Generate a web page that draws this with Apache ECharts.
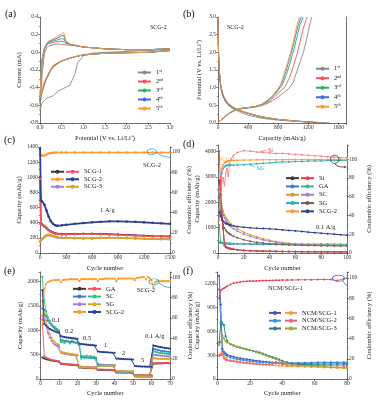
<!DOCTYPE html>
<html>
<head>
<meta charset="utf-8">
<script src="https://cdn.jsdelivr.net/npm/echarts@6/dist/echarts.min.js"></script>
<style>html,body{margin:0;padding:0;background:#fff}#main{width:376px;height:403px}</style>
</head>
<body>
<div id="main"></div>
<script>
var F = 'Liberation Serif, Times New Roman, serif';

// (a) CV curves, SCG-2
var cycLabels = ['1ˢᵗ', '2ⁿᵈ', '3ʳᵈ', '4ᵗʰ', '5ᵗʰ'];
var cycColors = ['#8a8a8a', '#f2545b', '#27b35a', '#4169e1', '#ff9a30'];
var cv1 = [[3.0,0.03],[2.5,0.02],[2.0,0.01],[1.5,0.0],[1.2,-0.01],[1.0,-0.03],[0.96,-0.07],[0.87,-0.11],[0.81,-0.24],[0.69,-0.37],[0.54,-0.41],[0.42,-0.44],[0.31,-0.49],[0.15,-0.52],[0.04,-0.58],[0.0,-0.66],
  [0.02,-0.45],[0.05,-0.25],[0.1,-0.02],[0.15,0.05],[0.2,0.07],[0.3,0.085],[0.4,0.095],[0.5,0.09],[0.6,0.085],[0.8,0.075],[1.0,0.06],[1.5,0.04],[2.0,0.03],[2.5,0.03],[3.0,0.04]];
var cvV = [3.0,2.5,2.0,1.5,1.0,0.8,0.6,0.5,0.4,0.3,0.25,0.2,0.15,0.1,0.05,0.02,0.0,
  0.02,0.05,0.1,0.15,0.2,0.3,0.4,0.5,0.55,0.6,0.7,0.8,1.0,1.5,2.0,2.5,3.0];
var cv2 = [0.02,0.0,-0.005,-0.01,-0.03,-0.05,-0.08,-0.1,-0.13,-0.17,-0.2,-0.25,-0.3,-0.37,-0.45,-0.52,-0.58,
  -0.32,-0.1,0.03,0.08,0.1,0.11,0.12,0.125,0.12,0.1,0.09,0.08,0.06,0.04,0.03,0.03,0.04];
var cv3 = [0.02,0.0,-0.005,-0.01,-0.03,-0.05,-0.08,-0.1,-0.13,-0.16,-0.2,-0.26,-0.29,-0.35,-0.44,-0.5,-0.56,
  -0.3,-0.09,0.04,0.08,0.11,0.125,0.14,0.155,0.15,0.11,0.09,0.08,0.06,0.04,0.03,0.03,0.04];
var cv4 = [0.02,0.0,-0.005,-0.01,-0.03,-0.05,-0.08,-0.1,-0.12,-0.16,-0.19,-0.24,-0.29,-0.35,-0.43,-0.49,-0.54,
  -0.29,-0.08,0.05,0.09,0.12,0.14,0.16,0.19,0.19,0.12,0.09,0.08,0.06,0.04,0.03,0.03,0.04];
var cv5 = [0.02,0.0,-0.005,-0.01,-0.03,-0.05,-0.08,-0.1,-0.12,-0.15,-0.19,-0.24,-0.28,-0.34,-0.42,-0.48,-0.52,
  -0.27,-0.07,0.05,0.1,0.13,0.15,0.18,0.21,0.225,0.13,0.09,0.08,0.06,0.04,0.03,0.03,0.04];

// (b) charge / discharge profiles
var dis1 = [[0,3.0],[3,2.3],[8,1.8],[20,1.3],[40,0.95],[70,0.72],[110,0.56],[160,0.46],[220,0.38],[300,0.3],[400,0.22],[500,0.17],[600,0.13],[800,0.08],[1000,0.05],[1200,0.03],[1400,0.012],[1480,0.005]];
var dis2 = [[0,3.0],[3,2.4],[8,1.9],[18,1.45],[35,1.05],[65,0.78],[100,0.62],[150,0.5],[210,0.42],[300,0.34],[400,0.27],[500,0.21],[600,0.16],[800,0.1],[1000,0.065],[1200,0.035],[1330,0.01]];
var dis3 = [[0,3.0],[3,2.4],[8,1.9],[18,1.45],[35,1.05],[65,0.78],[100,0.62],[150,0.5],[210,0.42],[300,0.34],[400,0.27],[500,0.21],[600,0.16],[800,0.1],[1000,0.06],[1200,0.03],[1300,0.01]];
var dis4 = [[0,3.0],[3,2.45],[8,1.95],[18,1.48],[35,1.07],[65,0.8],[100,0.63],[150,0.51],[210,0.43],[300,0.35],[400,0.28],[500,0.22],[600,0.17],[800,0.1],[1000,0.06],[1200,0.025],[1280,0.01]];
var dis5 = [[0,3.0],[3,2.5],[8,2.0],[15,1.6],[30,1.2],[50,0.95],[80,0.75],[120,0.6],[170,0.5],[230,0.42],[300,0.35],[400,0.28],[500,0.22],[600,0.17],[800,0.1],[1000,0.06],[1200,0.025],[1260,0.01]];
var chg1 = [[0,0.01],[20,0.05],[60,0.12],[100,0.19],[150,0.27],[200,0.33],[260,0.38],[330,0.41],[420,0.43],[520,0.46],[620,0.52],[720,0.62],[800,0.74],[880,0.87],[940,0.97],[1000,1.15],[1050,1.48],[1100,1.78],[1140,2.05],[1180,2.4],[1215,2.75],[1245,3.0]];
var chg2 = [[0,0.01],[20,0.05],[60,0.12],[100,0.2],[150,0.28],[200,0.34],[260,0.39],[330,0.42],[420,0.44],[510,0.47],[600,0.53],[690,0.63],[760,0.76],[830,0.9],[890,1.03],[950,1.28],[1000,1.6],[1050,1.95],[1090,2.3],[1130,2.65],[1165,2.9],[1185,3.0]];
var chg3 = [[0,0.01],[20,0.05],[60,0.12],[100,0.2],[150,0.28],[200,0.34],[260,0.39],[330,0.42],[420,0.44],[500,0.47],[590,0.53],[670,0.63],[740,0.77],[800,0.92],[860,1.1],[910,1.38],[960,1.72],[1010,2.1],[1050,2.45],[1090,2.78],[1130,3.0]];
var chg4 = [[0,0.01],[20,0.05],[60,0.12],[100,0.2],[150,0.28],[200,0.34],[260,0.39],[330,0.42],[420,0.44],[500,0.47],[585,0.53],[660,0.64],[730,0.78],[790,0.93],[845,1.12],[895,1.42],[945,1.78],[990,2.12],[1030,2.47],[1070,2.8],[1105,3.0]];
var chg5 = [[0,0.01],[20,0.05],[60,0.12],[100,0.2],[150,0.28],[200,0.34],[260,0.39],[330,0.42],[420,0.44],[500,0.47],[580,0.53],[650,0.63],[720,0.77],[780,0.92],[830,1.08],[880,1.4],[930,1.75],[975,2.08],[1015,2.45],[1050,2.78],[1080,3.0]];

// (c) long cycling at 1 A/g
var cX = [1,10,25,50,75,100,125,150,175,200,250,300,400,500,600,700,800,900,1000,1100,1200,1300,1400,1500];
var cScg1d = [1000,390,378,355,330,305,285,270,260,255,250,250,252,254,254,252,249,244,239,234,229,225,222,219];
var cScg1 = [980,380,370,350,325,300,280,265,255,250,245,245,248,250,250,248,245,240,235,230,225,220,218,215];
var cScg2ce = [97.7,96.5,96.5,96.7,97.5,98.5,99,99.3,99.5,99.5,99.5,99.6,99.6,99.6,99.6,99.6,99.6,99.6,99.6,99.6,99.6,99.6,99.6,99.6];
var cScg2 = [1380,700,680,640,560,480,420,385,365,360,365,372,385,395,405,412,418,418,415,412,405,398,392,385];
var cScg3d = [150,165,185,210,230,235,230,220,210,205,200,198,195,193,193,197,200,198,195,192,188,185,183,180];
var cScg3 = [150,170,190,215,235,240,235,225,215,208,203,200,198,195,195,200,202,200,197,195,190,187,185,182];

// (d) cycling at 0.1 A/g
var dX = [1,2,3,4,5,6,7,8,9,10,12,15,20,25,30,35,40,45,50,55,60,65,70,75,80,85,90,95,100];
var dSiD = [2850,2300,1500,950,300,240,210,190,175,160,145,125,98,88,78,72,68,63,58,56,53,50,48,46,45,44,43,41,40];
var dSi = [4000,2500,1600,1000,320,250,220,200,180,170,150,130,100,90,80,75,70,65,60,58,55,52,50,48,46,45,44,42,40];
var dSiCE = [70,55,75,80,72,85,90,82,95,100,104,107,109,108.5,107.5,107,106.5,106,106,105.5,105,104.5,104,103.5,103,102.5,102,101.5,101.5];
var dGAd = [420,400,390,380,375,370,368,365,362,360,358,355,350,345,340,338,335,332,330,328,325,322,320,318,316,314,312,310,308];
var dGA = [1100,450,400,390,385,380,378,376,374,372,370,368,365,362,360,358,356,355,354,353,352,352,351,350,350,350,349,349,348];
var dSCd = [2400,2100,1850,1650,1500,1400,1320,1250,1190,1140,1050,950,820,720,640,560,500,450,410,380,355,340,330,320,315,310,305,302,300];
var dSC = [2200,1950,1700,1500,1380,1280,1200,1140,1080,1030,950,860,740,650,580,510,460,420,385,360,340,325,315,308,302,298,294,290,288];
var dSGce = [45,70,85,90,92,93,93.5,93.5,93.5,93.5,93.5,93.8,94,94.5,95,95.5,96,96.5,97,97,97.5,97.5,98,98,98,98.5,98.5,98.5,98.5];
var dSG = [2200,1600,1300,1100,980,900,840,790,750,715,660,600,520,460,420,390,365,345,330,320,310,303,298,292,288,285,282,280,278];
var dScg2ce = [35,80,90,94,96,97,97.5,98,98,98.5,98.5,98.7,99,99,99.2,99.3,99.3,99.4,99.4,99.5,99.5,99.5,99.5,99.5,99.6,99.6,99.6,99.6,99.6];
var dScg2 = [1600,1450,1330,1250,1200,1160,1140,1120,1100,1090,1070,1040,1010,990,975,960,950,930,910,890,870,850,820,800,780,760,740,720,700];

// (e) rate performance, cycles 1-70
var eGAd = [440,420,410,400,390,382,375,370,365,360, 312,308,304,300,297,295,292,290,288,286, 236,234,232,230,228,227,226,225,224,223,
  190,188,187,186,185,184,183,182,181,180, 136,135,134,134,133,133,132,132,131,131, 76,74,73,72,71,71,70,70,69,69, 316,318,320,321,322,323,324,325,326,326];
var eGA = [1220,470,440,420,405,395,385,378,372,365, 320,315,310,305,302,300,297,295,292,290, 240,238,236,234,232,230,229,228,227,226,
  195,193,191,190,189,188,187,186,185,184, 140,139,138,138,137,137,136,136,135,135, 80,78,77,76,75,75,74,74,73,73, 320,322,324,325,326,327,328,329,330,330];
var eSCd = [1450,1420,1300,1200,1150,1100,1060,1030,1000,980, 800,790,780,775,770,765,760,755,750,745, 700,460,450,445,440,440,435,430,428,425,
  300,295,292,290,288,286,285,284,283,282, 150,148,147,146,145,145,144,144,143,143, 60,58,57,56,55,55,54,54,53,53, 620,610,600,590,580,575,570,565,560,555];
var eSC = [2100,1620,1400,1260,1200,1130,1090,1060,1030,1000, 760,800,740,790,780,730,790,770,740,760, 690,420,470,430,480,440,470,430,460,440,
  260,280,270,285,275,280,270,275,270,272, 160,155,152,150,150,148,148,147,147,146, 70,68,66,65,64,64,63,63,62,62, 570,560,550,540,535,530,525,520,515,510];
var eSGd = [1300,1200,1100,950,850,780,730,700,680,660, 540,530,520,512,505,500,495,490,486,482, 260,255,252,250,248,246,245,244,243,242,
  270,272,274,276,277,278,279,280,280,281, 160,158,157,156,155,155,154,154,153,153, 50,48,47,46,45,45,44,44,43,43, 500,495,490,485,480,476,472,468,465,462];
var eSG = [1600,1350,1200,1050,930,850,790,750,720,700, 560,550,540,530,522,515,510,505,500,495, 250,245,243,241,240,238,237,236,235,234,
  265,270,272,274,275,276,277,278,278,279, 165,162,160,159,158,157,156,156,155,155, 55,52,50,49,48,48,47,47,46,46, 430,425,420,418,415,413,411,409,407,405];
var eScg2ce = [53,88,93,95,96,96.5,97,97,97,97.5, 95,97,97.5,97.5,97.5,98,98,98,98,98, 96,98,98,98,98,98,98,98,98,98,
  96,98,98,98,98.5,98.5,98.5,98.5,98.5,98.5, 96,98.5,98.5,98.5,98.5,98.5,98.5,98.5,98.5,98.5, 97,99,99.5,99.5,100,100,98,100,99,97, 90,95,96,96,96,96,96,96,96,96];
var eScg2 = [1830,1130,1100,1060,1030,1010,990,975,960,950, 880,870,860,855,850,845,840,835,830,825, 730,720,715,710,705,700,698,695,690,688,
  565,560,555,552,550,548,545,543,540,538, 420,418,415,413,410,408,406,404,402,400, 265,262,260,258,256,255,254,253,252,250, 690,680,670,662,655,648,642,636,630,625];
var eRates = ['0.1', '0.2', '0.5', '1', '2', '5', '0.1 A/g'];

// (f) NCM full cells
var fX = [1,2,3,4,5,6,8,10,12,14,16,18,20,22,24,26,28,30,32,34,36,38,40,43,46,50,54,58,62,66,70,74,78,80];
var fN1a = [1300,940,380,340,320,305,290,280,270,262,255,248,242,236,230,225,220,216,212,208,205,203,200,198,197,197,198,200,202,204,205,205,205,204];
var fN1 = [300,320,340,280,260,245,235,228,222,215,210,205,200,196,192,188,184,180,177,174,171,168,166,162,160,157,154,151,149,146,143,140,137,135];
var fN2a = [1130,720,350,320,300,285,270,260,250,243,237,231,226,221,217,213,210,207,205,203,202,201,200,200,201,203,205,208,210,210,211,210,210,209];
var fN2 = [290,300,310,260,245,235,228,222,216,210,205,200,196,192,189,186,183,181,182,190,215,200,185,178,175,173,172,170,169,168,167,166,165,164];
var fN3a = [460,700,710,680,540,480,440,420,405,395,385,375,365,355,345,335,320,305,290,275,262,248,230,210,195,185,183,183,184,186,187,188,188,187];
var fN3 = [430,470,550,510,480,460,440,425,410,398,385,373,362,350,338,325,310,295,280,265,250,235,215,195,180,170,165,160,158,155,150,147,143,140];
var fCE = [80,88,89,90,91,92,93.5,95,95.5,96,96.5,96.8,97,97,97.2,97.3,97.5,97.5,97.6,97.7,97.8,97.8,98,98,98.1,98.2,98.3,98.4,98.5,98.6,98.5,97.5,99,100];

function zip(xs, ys) { return xs.map(function (x, i) { return [x, ys[i]]; }); }
function idx(ys) { return ys.map(function (y, i) { return [i + 1, y]; }); }

function axis(gi, min, max, itv, name, gap, fmt, hideMax) {
  return {
    gridIndex: gi, type: 'value', min: min, max: max, interval: itv,
    name: name, nameLocation: 'middle', nameGap: gap,
    nameTextStyle: { fontFamily: F, fontSize: 6.5, color: '#222' },
    axisLine: { show: true, onZero: false, lineStyle: { color: '#333', width: 0.7 } },
    axisTick: { show: true, inside: false, length: 2, lineStyle: { width: 0.6 } },
    minorTick: { show: true, splitNumber: 2, length: 1.2, lineStyle: { color: '#333', width: 0.5 } },
    axisLabel: { fontFamily: F, fontSize: 5.5, color: '#333', margin: 2, formatter: fmt || plain, showMaxLabel: !hideMax },
    splitLine: { show: false }
  };
}
function f1(v) { return v.toFixed(1); }
function plain(v) { return String(v); }

var xAxes = [
  axis(0, 0, 3, 0.5, 'Potential (V vs. Li/Li⁺)', 12, f1),
  axis(1, 0, 1700, 400, 'Capacity (mAh/g)', 12, null, true),
  axis(2, 0, 1500, 300, 'Cycle number', 12),
  axis(3, 0, 100, 20, 'Cycle number', 12),
  axis(4, 0, 70, 10, 'Cycle number', 11),
  axis(5, 0, 80, 20, 'Cycle number', 11)
];
var yAxes = [
  axis(0, -0.8, 0.4, 0.2, 'Current (mA)', 17, f1),
  axis(1, 0, 3, 0.5, 'Potential (V vs. Li/Li⁺)', 15, f1),
  axis(2, 0, 1400, 200, 'Capacity (mAh/g)', 15),
  axis(3, 0, 4250, 1000, 'Capacity (mAh/g)', 12, null, true),
  axis(4, 0, 2200, 500, 'Capacity (mAh/g)', 16, null, true),
  axis(5, 0, 1350, 300, 'Capacity (mAh/g)', 13, null, true),
  axis(2, 0, 105, 20, 'Coulombic efficiency (%)', 16, null, true),
  axis(3, 0, 115, 20, 'Coulombic efficiency (%)', 19, null, true),
  axis(4, 0, 105, 20, 'Coulombic efficiency (%)', 17, null, true),
  axis(5, 0, 106, 20, 'Coulombic efficiency (%)', 19, null, true),
  axis(1, 0, 3, 0.5, '', 0)
];
[6, 7, 8, 9, 10].forEach(function (i) { yAxes[i].position = 'right'; yAxes[i].nameRotate = 90; });
yAxes[10].axisLabel.show = false; yAxes[10].axisTick.show = false; yAxes[10].minorTick.show = false;

var series = [];
function line(name, gi, yi, data, color, sym, width, z) {
  series.push({
    type: 'line', name: name, xAxisIndex: gi, yAxisIndex: yi, data: data,
    symbol: sym ? 'circle' : 'none', symbolSize: sym || 0, showSymbol: !!sym,
    lineStyle: { color: color, width: width }, itemStyle: { color: color },
    z: z || 2, animation: false, emphasis: { disabled: true }
  });
}

// (a)
var cvList = [cv2, cv3, cv4, cv5];
line('a|' + cycLabels[0], 0, 0, cv1, cycColors[0], 0, 0.9);
cvList.forEach(function (c, i) { line('a|' + cycLabels[i + 1], 0, 0, zip(cvV, c), cycColors[i + 1], 0, 0.9); });
// (b)
var disList = [dis1, dis2, dis3, dis4, dis5], chgList = [chg1, chg2, chg3, chg4, chg5];
disList.forEach(function (d, i) {
  line('b|' + cycLabels[i], 1, 1, d, cycColors[i], 0, 0.9);
  line('b|' + cycLabels[i], 1, 1, chgList[i], cycColors[i], 0, 0.9);
});
// (c)
line('c0|SCG-1', 2, 2, zip(cX, cScg1d), '#3a3a3a', 2.5, 1.6);
line('c|SCG-1', 2, 2, zip(cX, cScg1), '#f2545b', 2.5, 1.6, 3);
line('c0|SCG-2', 2, 6, zip(cX, cScg2ce), '#ff9a30', 2.5, 1.6);
line('c|SCG-2', 2, 2, zip(cX, cScg2), '#2c3e8f', 2.5, 1.8, 3);
line('c0|SCG-3', 2, 2, zip(cX, cScg3d), '#a77ee0', 2.5, 1.6);
line('c|SCG-3', 2, 2, zip(cX, cScg3), '#d9a520', 2.5, 1.6, 3);
// (d)
line('d0|Si', 3, 3, zip(dX, dSiD), '#3a3a3a', 2, 0.9);
line('d|Si', 3, 3, zip(dX, dSi), '#f03c46', 2, 0.9, 3);
line('dSiCE', 3, 7, zip(dX, dSiCE), '#f47a84', 1.8, 0.8);
line('d0|GA', 3, 3, zip(dX, dGAd), '#3a7bd5', 2, 0.9);
line('d|GA', 3, 3, zip(dX, dGA), '#2ec27e', 2, 0.9);
line('d0|SC', 3, 3, zip(dX, dSCd), '#d4a12a', 2, 0.9);
line('d|SC', 3, 3, zip(dX, dSC), '#9b7fd8', 2, 0.9);
line('d0|SG', 3, 7, zip(dX, dSGce), '#27b3b0', 2, 0.9);
line('d|SG', 3, 3, zip(dX, dSG), '#7a5a50', 2, 0.9);
line('d0|SCG-2', 3, 7, zip(dX, dScg2ce), '#ff9a30', 2, 0.9);
line('d|SCG-2', 3, 3, zip(dX, dScg2), '#2c3e8f', 2, 1, 3);
// (e)
line('e0|GA', 4, 4, idx(eGAd), '#3a3a3a', 2.2, 0.9);
line('e|GA', 4, 4, idx(eGA), '#f2545b', 2.2, 0.9);
line('e0|SC', 4, 4, idx(eSCd), '#3a7bd5', 2.2, 0.9);
line('e|SC', 4, 4, idx(eSC), '#2ec27e', 2.2, 0.9);
line('e0|SG', 4, 4, idx(eSGd), '#a77ee0', 2.2, 0.9);
line('e|SG', 4, 4, idx(eSG), '#d9a520', 2.2, 0.9);
line('e0|SCG-2', 4, 8, idx(eScg2ce), '#ff9a30', 2.2, 0.9);
line('e|SCG-2', 4, 4, idx(eScg2), '#2c3e8f', 2.2, 1, 3);
// (f)
line('f0|NCM/SCG-1', 5, 5, zip(fX, fN1a), '#3f55b5', 2.2, 0.9);
line('f|NCM/SCG-1', 5, 5, zip(fX, fN1), '#ff9a3c', 2.2, 0.9);
line('f0|NCM/SCG-2', 5, 5, zip(fX, fN2a), '#3b8fe0', 2.2, 0.9);
line('f|NCM/SCG-2', 5, 5, zip(fX, fN2), '#f06078', 2.2, 0.9);
line('f0|NCM/SCG-3', 5, 5, zip(fX, fN3a), '#267f85', 2.2, 0.9);
line('f|NCM/SCG-3', 5, 5, zip(fX, fN3), '#a3a32a', 2.2, 0.9);
line('fCE', 5, 9, zip(fX, fCE), '#e04050', 2, 0.8);

function legend(names, x, y, pitch, showText, iw) {
  return {
    orient: 'vertical', left: x, top: y, itemWidth: iw || 13, itemHeight: 5, itemGap: 0,
    selectedMode: false, data: names, padding: 0,
    formatter: showText ? function (n) { return n.split('|')[1]; } : function () { return ' '; },
    textStyle: { fontFamily: F, fontSize: 6.5, color: '#222', lineHeight: pitch }
  };
}
function names(p, list) { return list.map(function (s) { return p + '|' + s; }); }

var legends = [
  legend(names('a', cycLabels), 137, 68, 9, true),
  legend(names('b', cycLabels), 315, 64, 9.5, true),
  legend(names('c0', ['SCG-1', 'SCG-2', 'SCG-3']), 50, 168, 7.5, false),
  legend(names('c', ['SCG-1', 'SCG-2', 'SCG-3']), 65, 168, 7.5, true),
  legend(names('d0', ['Si', 'GA', 'SC', 'SG', 'SCG-2']), 285, 174, 8.3, false),
  legend(names('d', ['Si', 'GA', 'SC', 'SG', 'SCG-2']), 300, 174, 8.3, true),
  legend(names('e0', ['GA', 'SC', 'SG', 'SCG-2']), 72, 285, 7.7, false),
  legend(names('e', ['GA', 'SC', 'SG', 'SCG-2']), 87, 285, 7.7, true),
  legend(names('f0', ['NCM/SCG-1', 'NCM/SCG-2', 'NCM/SCG-3']), 268, 309, 7.8, false, 12),
  legend(names('f', ['NCM/SCG-1', 'NCM/SCG-2', 'NCM/SCG-3']), 284, 309, 7.8, true, 12)
];

function T(x, y, s, size, color) {
  return { type: 'text', x: x, y: y, z: 20, style: { text: s, fontFamily: F, fontSize: size, fill: color || '#222' } };
}
function oval(cx, cy, rx, ry, color) {
  return { type: 'circle', x: cx, y: cy, scaleX: rx / ry, z: 20, shape: { cx: 0, cy: 0, r: ry }, style: { fill: 'none', stroke: color, lineWidth: 0.8 / Math.sqrt(rx / ry) } };
}
function curve(x1, y1, cx, cy, x2, y2, color) {
  return { type: 'bezierCurve', z: 20, shape: { x1: x1, y1: y1, cpx1: cx, cpy1: cy, x2: x2, y2: y2 }, style: { stroke: color, lineWidth: 0.8, fill: 'none' } };
}
function seg(x1, y1, x2, y2, color) {
  return { type: 'line', z: 20, shape: { x1: x1, y1: y1, x2: x2, y2: y2 }, style: { stroke: color, lineWidth: 0.6 } };
}
function head(x, y, color) {
  return { type: 'polygon', z: 20, shape: { points: [[x, y], [x - 2.5, y - 1.3], [x - 2.5, y + 1.3]] }, style: { fill: color } };
}

var graphics = [
  T(5, 9, '(a)', 10, '#111'), T(183, 9, '(b)', 10, '#111'), T(4, 135, '(c)', 10, '#111'),
  T(183, 139, '(d)', 10, '#111'), T(4, 266, '(e)', 10, '#111'), T(183, 266, '(f)', 10, '#111'),
  T(150, 24, 'SCG-2', 6), T(227, 24, 'SCG-2', 6),
  T(143, 162, 'SCG-2', 6.5), T(100, 207, '1 A/g', 6.5),
  oval(151.7, 151.7, 4.5, 2.8, '#2aa0d8'), curve(156, 152.5, 162, 157, 170, 157.5, '#2aa0d8'),
  T(268, 147.5, 'Si', 6, '#f03c46'), seg(260, 151.5, 266, 150.5, '#f03c46'),
  T(219, 156.5, 'SCG-2', 5.5, '#ff9a30'),
  T(256.5, 165.5, 'SG', 6, '#27a3b0'), seg(250, 165, 255, 167, '#27a3b0'),
  T(316, 224, '0.1 A/g', 6.5),
  oval(334.7, 159.3, 4.2, 4.2, '#333'), curve(335, 163.5, 336, 167, 344, 167, '#333'), head(346.7, 167, '#333'),
  T(137, 286.5, 'SCG-2', 6.5),
  T(52, 317, eRates[0], 6.5), T(65, 328, eRates[1], 6.5), T(83, 335, eRates[2], 6.5),
  T(104, 342, eRates[3], 6.5), T(122, 350, eRates[4], 6.5), T(141, 357, eRates[5], 6.5), T(145, 333, eRates[6], 6.5),
  oval(154, 281.7, 5, 3, '#2aa0d8'), curve(159, 283, 164, 287.5, 170, 287.7, '#2aa0d8'),
  T(268, 285, 'NCM/SCG-1', 6.5),
  oval(338.5, 278.3, 6, 3.2, '#4a6fd0'), curve(343, 281, 345, 285, 347, 285.5, '#4a6fd0')
];

var chart = echarts.init(document.getElementById('main'), null, { renderer: 'canvas' });
chart.setOption({
  animation: false,
  backgroundColor: '#fff',
  grid: [
    { left: 40, top: 17, width: 130, height: 106 },
    { left: 218, top: 17, width: 128, height: 106 },
    { left: 40, top: 147, width: 130, height: 106 },
    { left: 218, top: 145, width: 129, height: 108 },
    { left: 40.5, top: 272, width: 129.5, height: 107 },
    { left: 217.5, top: 272, width: 129.5, height: 107 }
  ],
  xAxis: xAxes,
  yAxis: yAxes,
  legend: legends,
  series: series,
  graphic: graphics
});
</script>
</body>
</html>
